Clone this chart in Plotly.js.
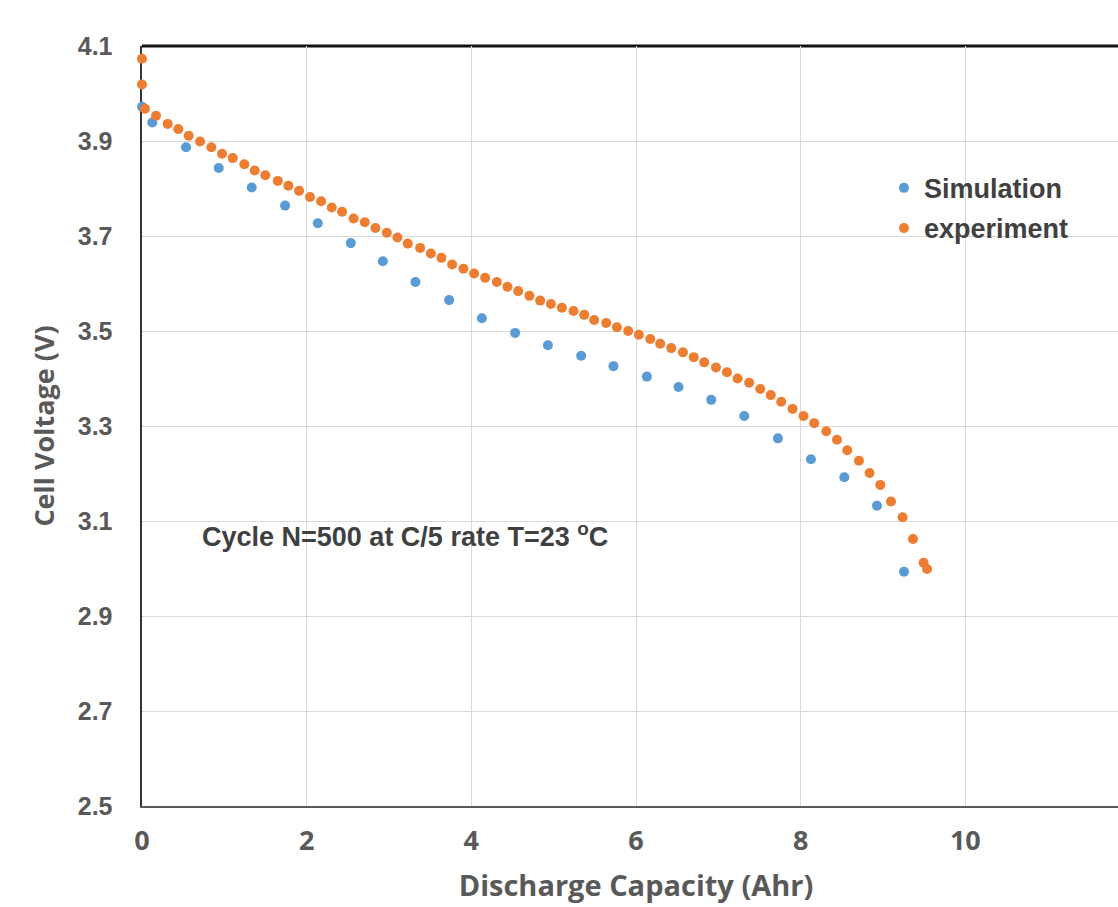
<!DOCTYPE html>
<html>
<head>
<meta charset="utf-8">
<script src="https://cdn.plot.ly/plotly-3.0.1.min.js"></script>
<style>
html,body{margin:0;padding:0;overflow:hidden;background:#fff;}
#chart{width:1142px;height:907px;}
</style>
</head>
<body>
<div id="chart"></div>
<script>
// Simulation series (Discharge capacity Ahr, cell voltage V)
const simCapacity = [0, 0.125, 0.535, 0.932, 1.333, 1.738, 2.135, 2.536, 2.925, 3.321, 3.730, 4.128, 4.532, 4.930, 5.334, 5.727, 6.132, 6.516, 6.914, 7.315, 7.724, 8.125, 8.530, 8.927, 9.255];
const simVoltage  = [3.972, 3.939, 3.887, 3.843, 3.802, 3.764, 3.727, 3.685, 3.647, 3.603, 3.565, 3.527, 3.496, 3.470, 3.448, 3.426, 3.404, 3.382, 3.355, 3.321, 3.274, 3.230, 3.192, 3.132, 2.993];

// Experiment series
const expCapacity = [0, 0, 0.036, 0.170, 0.312, 0.441, 0.567, 0.705, 0.842, 0.972, 1.102, 1.243, 1.369, 1.498, 1.649, 1.778, 1.908, 2.041, 2.175, 2.305, 2.430, 2.570, 2.706, 2.835, 2.973, 3.102, 3.228, 3.378, 3.508, 3.637, 3.767, 3.904, 4.034, 4.168, 4.310, 4.439, 4.569, 4.706, 4.836, 4.966, 5.100, 5.241, 5.371, 5.492, 5.638, 5.768, 5.905, 6.035, 6.173, 6.294, 6.428, 6.570, 6.701, 6.829, 6.971, 7.104, 7.233, 7.375, 7.509, 7.637, 7.764, 7.901, 8.035, 8.165, 8.311, 8.441, 8.566, 8.708, 8.837, 8.967, 9.097, 9.238, 9.364, 9.493, 9.535];
const expVoltage  = [4.073, 4.019, 3.968, 3.953, 3.936, 3.925, 3.911, 3.899, 3.887, 3.873, 3.864, 3.851, 3.838, 3.828, 3.816, 3.806, 3.795, 3.782, 3.773, 3.760, 3.751, 3.737, 3.729, 3.717, 3.707, 3.697, 3.684, 3.675, 3.663, 3.654, 3.640, 3.631, 3.621, 3.612, 3.603, 3.593, 3.584, 3.574, 3.564, 3.557, 3.549, 3.542, 3.534, 3.523, 3.517, 3.508, 3.500, 3.492, 3.483, 3.473, 3.464, 3.455, 3.445, 3.434, 3.423, 3.413, 3.400, 3.391, 3.378, 3.365, 3.351, 3.336, 3.321, 3.306, 3.289, 3.271, 3.249, 3.227, 3.201, 3.176, 3.141, 3.108, 3.062, 3.012, 2.999];

const seriesNames = ['Simulation', 'experiment'];
const xTickVals = [0, 2, 4, 6, 8, 10, 12];
const yTickVals = [2.5, 2.7, 2.9, 3.1, 3.3, 3.5, 3.7, 3.9, 4.1];
const xTitle = 'Discharge Capacity (Ahr)';
const yTitle = 'Cell Voltage (V)';
const noteText = 'Cycle N=500 at C/5 rate T=23 <sup>o</sup>C';

const traces = [
  {x: simCapacity, y: simVoltage, name: seriesNames[0], legendgroup: 'g1', mode: 'markers', type: 'scatter',
   cliponaxis: false, marker: {color: '#5B9BD5', size: 10}},
  {x: expCapacity, y: expVoltage, name: seriesNames[1], legendgroup: 'g2', mode: 'markers', type: 'scatter',
   cliponaxis: false, marker: {color: '#ED7D31', size: 10}}
];

const layout = {
  width: 1142, height: 907,
  margin: {l: 142, r: 12, t: 46, b: 101},
  paper_bgcolor: '#fff', plot_bgcolor: '#fff',
  showlegend: true,
  legend: {x: 0.751, y: 0.845, xanchor: 'left', yanchor: 'top', bgcolor: 'rgba(0,0,0,0)',
           font: {family: 'Liberation Sans, Arial, sans-serif', size: 27, color: '#404040', weight: 'bold'},
           itemwidth: 30, traceorder: 'grouped', tracegroupgap: 2},
  xaxis: {
    range: [0, 12], tickvals: xTickVals, showgrid: true, gridcolor: '#d9d9d9', gridwidth: 1,
    zeroline: false, showline: true, linecolor: '#595959', linewidth: 2, layer: 'below traces',
    ticks: '', ticklabelstandoff: 10,
    tickfont: {family: 'Open Sans, sans-serif', size: 27, color: '#595959', weight: 'bold'},
    title: {text: xTitle, standoff: 18, font: {family: 'Open Sans, sans-serif', size: 29, color: '#595959', weight: 'bold'}}
  },
  yaxis: {
    range: [2.5, 4.1], tickvals: yTickVals, showgrid: true, gridcolor: '#d9d9d9', gridwidth: 1,
    zeroline: false, showline: true, linecolor: '#333', linewidth: 2.5, layer: 'below traces',
    ticks: '', ticklabelstandoff: 22,
    tickfont: {family: 'Liberation Sans, Arial, sans-serif', size: 25, color: '#595959', weight: 'bold'},
    title: {text: yTitle, standoff: 16, font: {family: 'Open Sans, sans-serif', size: 27, color: '#595959', weight: 'bold'}}
  },
  shapes: [
    {type: 'line', xref: 'paper', yref: 'paper', x0: 0, x1: 1, y0: 1, y1: 1,
     line: {color: '#111', width: 3}, layer: 'below'}
  ],
  annotations: [
    {text: noteText, x: 0.70, y: 3.07, xref: 'x', yref: 'y', xanchor: 'left', yanchor: 'middle',
     showarrow: false, font: {family: 'Liberation Sans, Arial, sans-serif', size: 27, color: '#404040', weight: 'bold'}}
  ]
};

Plotly.newPlot('chart', traces, layout, {displayModeBar: false, staticPlot: true});
</script>
</body>
</html>
